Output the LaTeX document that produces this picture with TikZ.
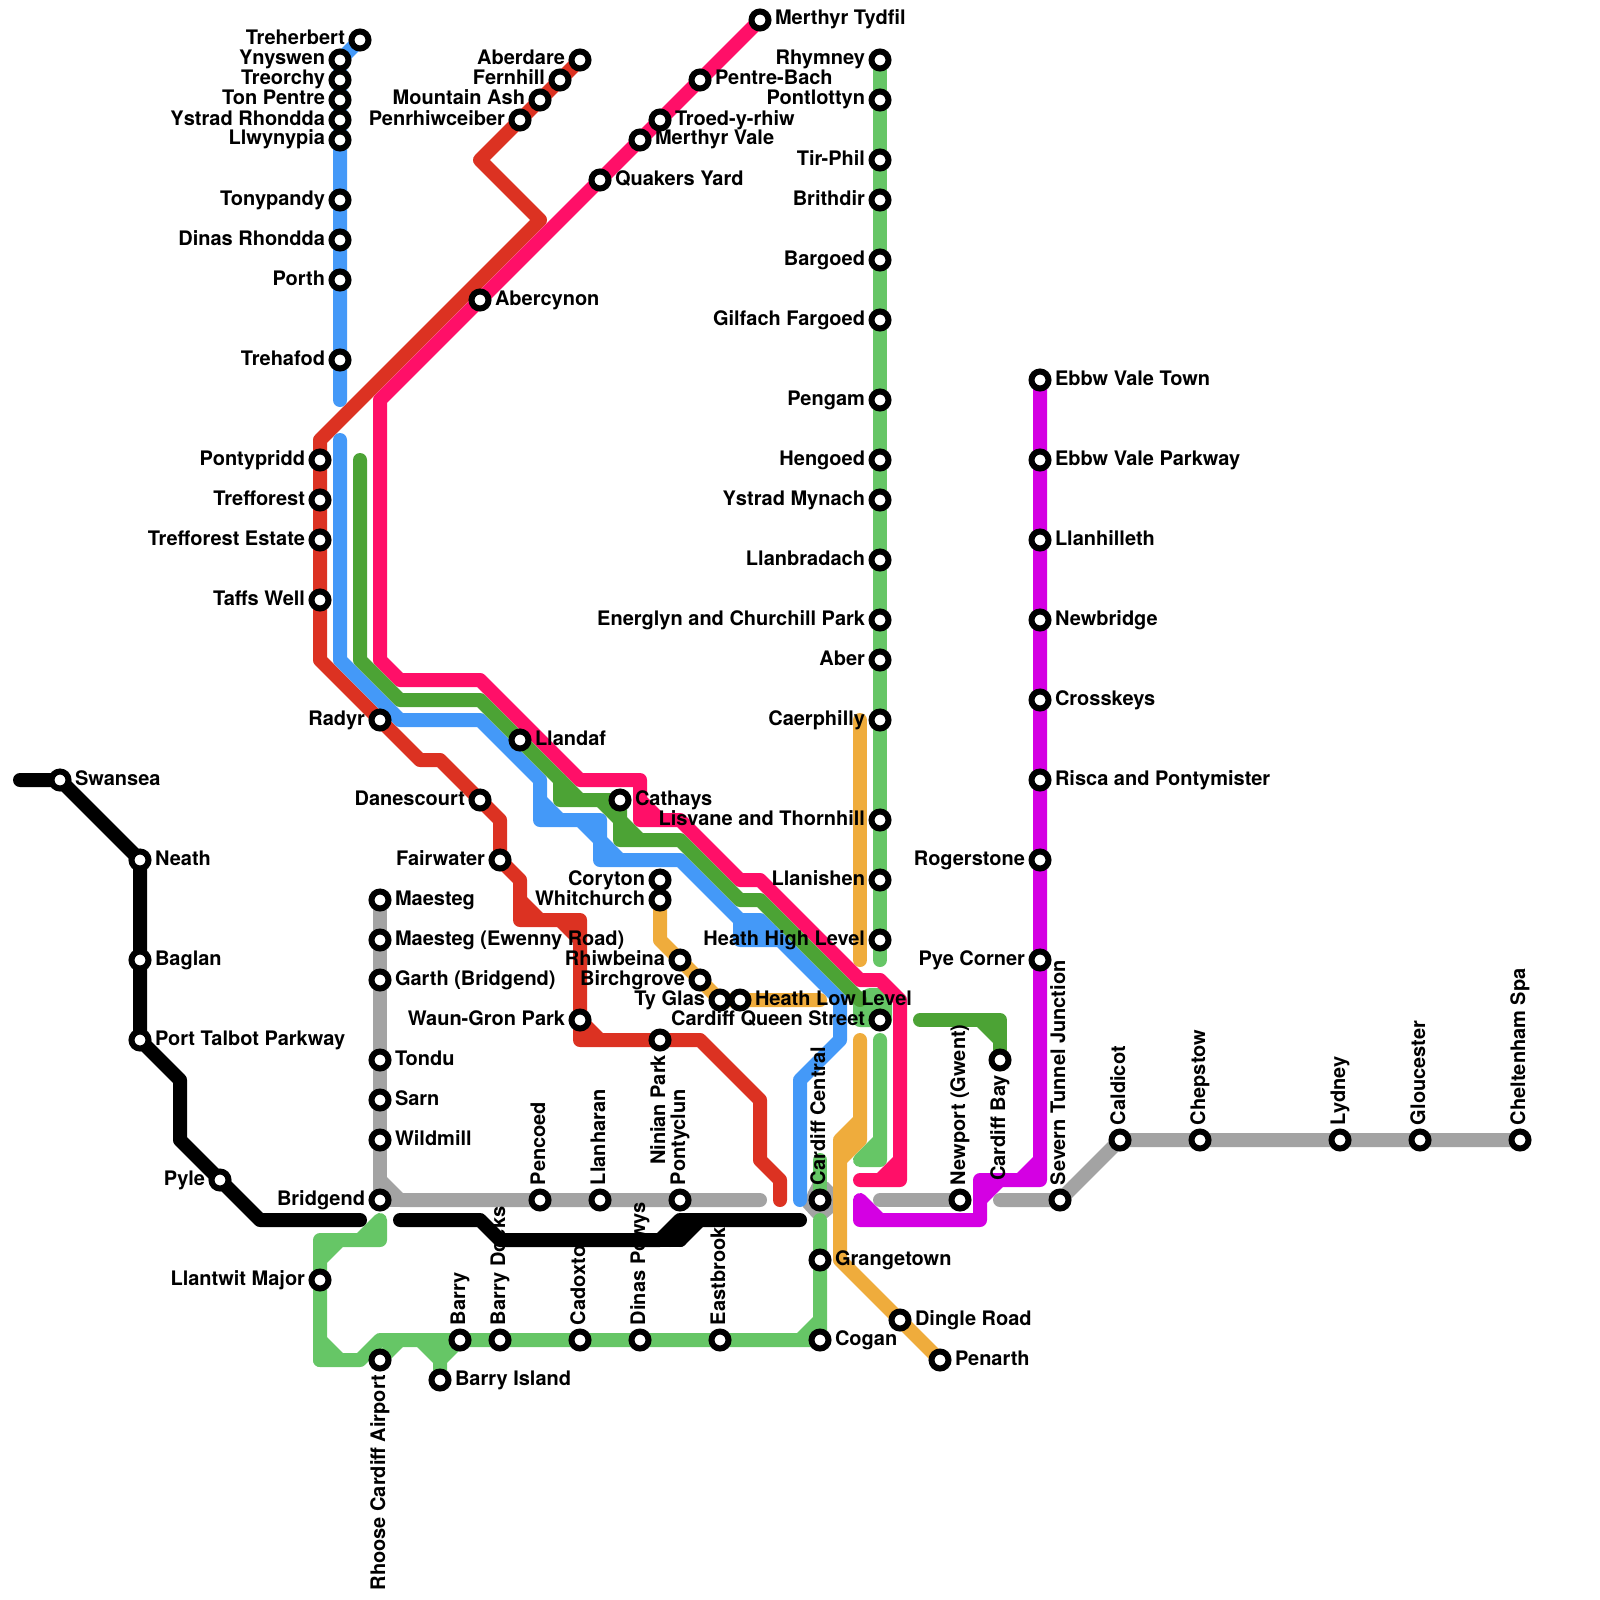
\documentclass[tikz,border=0pt]{standalone}
\usepackage{fontspec}
\setmainfont{TeX Gyre Heros}
\pgfdeclarelayer{lines}
\pgfsetlayers{lines,main}
\definecolor{cpink}{HTML}{FF0F68}
\definecolor{cred}{HTML}{DC3222}
\definecolor{cblue}{HTML}{4499F8}
\definecolor{cgreen}{HTML}{4CA335}
\definecolor{clight}{HTML}{66C666}
\definecolor{corange}{HTML}{EFAC3C}
\definecolor{cgrey}{HTML}{A3A3A3}
\definecolor{cpurple}{HTML}{D400E3}
\tikzset{
  stop/.style={circle,draw=black,fill=white,line width=6pt,minimum size=17pt,inner sep=0pt,outer sep=0pt},
  rail/.style={line width=14pt,line cap=round,line join=round},
  stname/.style={font=\fontsize{20}{22}\selectfont\bfseries,inner sep=0pt,outer sep=0pt,text=black},
}
% name, x, y, label
\newcommand{\stR}[4]{\node[stop] (#1) at (#2,#3) {};\node[stname,anchor=base west] (#1-l) at (#2+15,#3+5) {#4};}
\newcommand{\stL}[4]{\node[stop] (#1) at (#2,#3) {};\node[stname,anchor=base east] (#1-l) at (#2-15,#3+5) {#4};}
\newcommand{\stU}[4]{\node[stop] (#1) at (#2,#3) {};\node[stname,rotate=90,anchor=base west] (#1-l) at (#2+5,#3-15) {#4};}
\newcommand{\stD}[4]{\node[stop] (#1) at (#2,#3) {};\node[stname,rotate=90,anchor=base east] (#1-l) at (#2+5,#3+15) {#4};}
\begin{document}
\begin{tikzpicture}[x=1pt,y=-1pt]
\useasboundingbox (0,0) rectangle (1600,1600);
% black
\stR{swansea}{60}{780}{Swansea}
\stR{neath}{140}{860}{Neath}
\stR{baglan}{140}{960}{Baglan}
\stR{ptp}{140}{1040}{Port Talbot Parkway}
\stL{pyle}{220}{1180}{Pyle}
% rhondda
\stL{treherbert}{360}{40}{Treherbert}
\stL{ynyswen}{340}{60}{Ynyswen}
\stL{treorchy}{340}{80}{Treorchy}
\stL{tonpentre}{340}{100}{Ton Pentre}
\stL{ystrad}{340}{120}{Ystrad Rhondda}
\stL{llwynypia}{340}{140}{Llwynypia}
\stL{tonypandy}{340}{200}{Tonypandy}
\stL{dinasr}{340}{240}{Dinas Rhondda}
\stL{porth}{340}{280}{Porth}
\stL{trehafod}{340}{360}{Trehafod}
% red
\stL{aberdare}{580}{60}{Aberdare}
\stL{fernhill}{560}{80}{Fernhill}
\stL{mountainash}{540}{100}{Mountain Ash}
\stL{penrhiw}{520}{120}{Penrhiwceiber}
\stL{pontypridd}{320}{460}{Pontypridd}
\stL{trefforest}{320}{500}{Trefforest}
\stL{trefest}{320}{540}{Trefforest Estate}
\stL{taffs}{320}{600}{Taffs Well}
\stL{radyr}{380}{720}{Radyr}
\stL{danescourt}{480}{800}{Danescourt}
\stL{fairwater}{500}{860}{Fairwater}
\stL{waungron}{580}{1020}{Waun-Gron Park}
\stD{ninian}{660}{1040}{Ninian Park}
% pink
\stR{merthyr}{760}{20}{Merthyr Tydfil}
\stR{pentrebach}{700}{80}{Pentre-Bach}
\stR{troed}{660}{120}{Troed-y-rhiw}
\stR{mvale}{640}{140}{Merthyr Vale}
\stR{quakers}{600}{180}{Quakers Yard}
\stR{abercynon}{480}{300}{Abercynon}
\stR{llandaf}{520}{740}{Llandaf}
\stR{cathays}{620}{800}{Cathays}
% grey
\stR{maesteg}{380}{900}{Maesteg}
\stR{ewenny}{380}{940}{Maesteg (Ewenny Road)}
\stR{garth}{380}{980}{Garth (Bridgend)}
\stR{tondu}{380}{1060}{Tondu}
\stR{sarn}{380}{1100}{Sarn}
\stR{wildmill}{380}{1140}{Wildmill}
\stL{bridgend}{380}{1200}{Bridgend}
\stU{pencoed}{540}{1200}{Pencoed}
\stU{llanharan}{600}{1200}{Llanharan}
\stU{pontyclun}{680}{1200}{Pontyclun}
\stU{newport}{960}{1200}{Newport (Gwent)}
\stU{severn}{1060}{1200}{Severn Tunnel Junction}
\stU{caldicot}{1120}{1140}{Caldicot}
\stU{chepstow}{1200}{1140}{Chepstow}
\stU{lydney}{1340}{1140}{Lydney}
\stU{gloucester}{1420}{1140}{Gloucester}
\stU{cheltenham}{1520}{1140}{Cheltenham Spa}
% orange
\stL{coryton}{660}{880}{Coryton}
\stL{whitchurch}{660}{900}{Whitchurch}
\stL{rhiwbeina}{680}{960}{Rhiwbeina}
\stL{birchgrove}{700}{980}{Birchgrove}
\stL{tyglas}{720}{1000}{Ty Glas}
\stR{heathlow}{740}{1000}{Heath Low Level}
\stR{dingle}{900}{1320}{Dingle Road}
\stR{penarth}{940}{1360}{Penarth}
% rhymney
\stL{rhymney}{880}{60}{Rhymney}
\stL{pontlottyn}{880}{100}{Pontlottyn}
\stL{tirphil}{880}{160}{Tir-Phil}
\stL{brithdir}{880}{200}{Brithdir}
\stL{bargoed}{880}{260}{Bargoed}
\stL{gilfach}{880}{320}{Gilfach Fargoed}
\stL{pengam}{880}{400}{Pengam}
\stL{hengoed}{880}{460}{Hengoed}
\stL{ystradm}{880}{500}{Ystrad Mynach}
\stL{llanbradach}{880}{560}{Llanbradach}
\stL{energlyn}{880}{620}{Energlyn and Churchill Park}
\stL{aber}{880}{660}{Aber}
\stL{caerphilly}{880}{720}{Caerphilly}
\stL{lisvane}{880}{820}{Lisvane and Thornhill}
\stL{llanishen}{880}{880}{Llanishen}
\stL{heathhigh}{880}{940}{Heath High Level}
\stL{queenst}{880}{1020}{Cardiff Queen Street}
\stU{central}{820}{1200}{Cardiff Central}
\stR{grangetown}{820}{1260}{Grangetown}
\stR{cogan}{820}{1340}{Cogan}
\stU{eastbrook}{720}{1340}{Eastbrook}
\stU{dinasp}{640}{1340}{Dinas Powys}
\stU{cadoxton}{580}{1340}{Cadoxton}
\stU{barrydocks}{500}{1340}{Barry Docks}
\stU{barry}{460}{1340}{Barry}
\stR{barryisland}{440}{1380}{Barry Island}
\stD{rhoose}{380}{1360}{Rhoose Cardiff Airport}
\stL{llantwit}{320}{1280}{Llantwit Major}
\stD{cardiffbay}{1000}{1060}{Cardiff Bay}
% purple
\stR{ebbwtown}{1040}{380}{Ebbw Vale Town}
\stR{ebbwpark}{1040}{460}{Ebbw Vale Parkway}
\stR{llanhilleth}{1040}{540}{Llanhilleth}
\stR{newbridge}{1040}{620}{Newbridge}
\stR{crosskeys}{1040}{700}{Crosskeys}
\stR{risca}{1040}{780}{Risca and Pontymister}
\stL{rogerstone}{1040}{860}{Rogerstone}
\stL{pyecorner}{1040}{960}{Pye Corner}
\begin{pgfonlayer}{lines}
% grey
\draw[rail,cgrey] (maesteg.center)--(bridgend.center);
\draw[rail,cgrey] (380,1180)--(400,1200)--(pontyclun.center)--(760,1200);
\draw[rail,cgrey] (bridgend.center)--(400,1200);
\fill[cgrey] (813,1182)--(828,1182)--(833,1187)--(833,1213)--(827,1218)--(813,1218)--(803,1207)--(808,1192)--cycle;
\draw[rail,cgrey] (880,1200)--(newport.center);
\draw[rail,cgrey] (1000,1200)--(severn.center)--(caldicot.center)--(cheltenham.center);
% light green
\draw[rail,clight] (820,1160)--(820,1190);
\draw[rail,clight] (820,1220)--(cogan.center)--(eastbrook.center)--(barry.center)--(380,1340)--(360,1360)--(320,1360)--(320,1340)--(340,1360);
\draw[rail,clight] (820,1320)--(800,1340);
\draw[rail,clight] (rhoose.center)--(400,1340);
\draw[rail,clight] (420,1340)--(440,1360)--(barryisland.center);
\draw[rail,clight] (barry.center)--(440,1360);
\draw[rail,clight] (440,1340)--(barryisland.center);
\draw[rail,clight] (320,1360)--(320,1240)--(360,1240)--(380,1220)--(380,1240)--(340,1240)--(320,1260);
\draw[rail,clight] (rhymney.center)--(880,960);
\draw[rail,clight] (880,1040)--(880,1160)--(860,1160)--(880,1140);
\draw[rail,clight] (860,1000)--(870,995)--(885,995)--(885,1020)--(860,1020)--cycle;
\fill[clight] (860,1000) rectangle (885,1020);
% red
\draw[rail,cred] (aberdare.center)--(480,160)--(540,220)--(320,440)--(320,660)--(420,760)--(440,760)--(500,820)--(500,860)--(520,880)--(520,920)--(580,920)--(580,1040)--(700,1040)--(760,1100)--(760,1160)--(780,1180)--(780,1200);
\draw[rail,cred] (520,900)--(540,920);
\draw[rail,cred] (560,920)--(580,940);
\draw[rail,cred] (waungron.center)--(600,1040);
% blue
\draw[rail,cblue] (treherbert.center)--(340,60)--(340,400);
\draw[rail,cblue] (340,440)--(340,660)--(400,720)--(480,720)--(540,780)--(540,820)--(580,820)--(600,840)--(600,860)--(680,860)--(740,920)--(740,940)--(780,940)--(840,1000)--(840,1040)--(800,1080)--(800,1200);
\draw[rail,cblue] (740,920)--(760,920)--(780,940);
\draw[rail,cblue] (745,930)--(770,930);
\draw[rail,cblue] (540,800)--(560,820);
\draw[rail,cblue] (580,820)--(600,820)--(600,840)--(620,860);
% orange
\draw[rail,corange] (whitchurch.center)--(660,940)--(rhiwbeina.center)--(tyglas.center)--(820,1000);
\draw[rail,corange] (860,720)--(860,960);
\draw[rail,corange] (860,1040)--(860,1120)--(840,1140)--(840,1260)--(penarth.center);
\draw[rail,corange] (860,1120)--(860,1140)--(840,1160);
\draw[rail,corange] (850,1140)--(860,1130);
% pink
\draw[rail,cpink] (merthyr.center)--(380,400)--(380,660)--(400,680)--(480,680)--(580,780)--(640,780)--(640,820)--(680,820)--(740,880)--(760,880)--(860,980)--(880,980)--(900,1000)--(900,1180)--(860,1180);
\draw[rail,cpink] (880,1180)--(900,1160);
\draw[rail,cpink] (640,800)--(660,820);
% dark green
\draw[rail,cgreen] (360,460)--(360,660)--(400,700)--(480,700)--(560,780)--(560,800)--(cathays.center)--(620,840)--(680,840)--(740,900)--(760,900)--(860,1000);
\draw[rail,cgreen] (560,780)--(580,800);
\draw[rail,cgreen] (600,800)--(620,820)--(640,840);
\draw[rail,cgreen] (920,1020)--(1000,1020)--(cardiffbay.center);
\draw[rail,cgreen] (980,1020)--(1000,1040);
% black
\draw[rail,black] (20,780)--(swansea.center)--(neath.center)--(baglan.center)--(ptp.center)--(180,1080)--(180,1140)--(pyle.center)--(260,1220)--(360,1220);
\draw[rail,black] (400,1220)--(480,1220)--(500,1240)--(660,1240)--(680,1220)--(800,1220);
\draw[rail,black] (680,1240)--(700,1220);
\draw[rail,black] (670,1240)--(690,1220);
\draw[rail,black] (660,1240)--(680,1240);
% purple
\draw[rail,cpurple] (ebbwtown.center)--(1040,1180)--(980,1180)--(980,1220)--(860,1220)--(860,1200)--(880,1220);
\draw[rail,cpurple] (980,1200)--(1000,1180);
\draw[rail,cpurple] (1040,1160)--(1020,1180);
\end{pgfonlayer}
\end{tikzpicture}
\end{document}
